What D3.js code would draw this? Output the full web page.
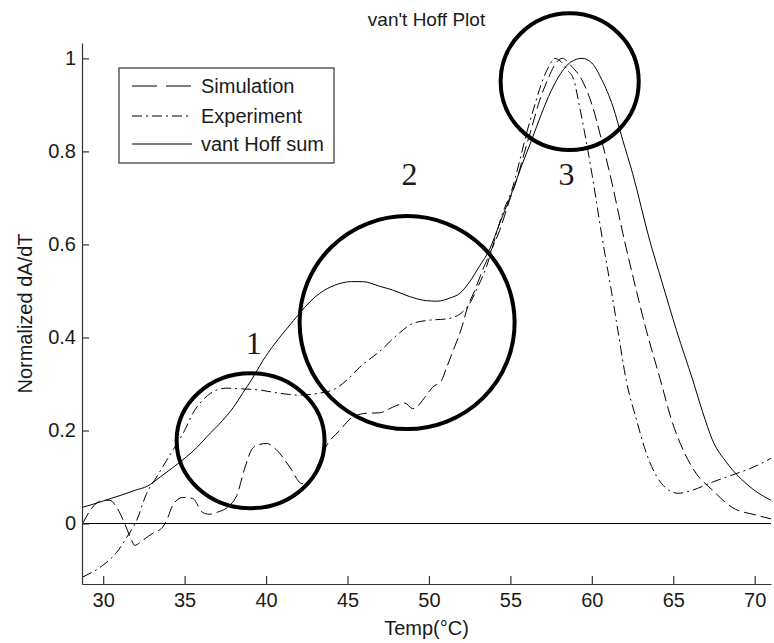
<!DOCTYPE html>
<html>
<head>
<meta charset="utf-8">
<script src="https://cdn.jsdelivr.net/npm/d3@7"></script>
<style>
  body { margin: 0; background: #fff; }
  svg { display: block; }
</style>
</head>
<body>
<div id="chart"></div>
<script>
// Simulation (long dashes)
const simTemp = [28.74, 29.2, 29.6, 30.0, 30.4, 30.83, 31.32, 31.75, 31.93, 32.42, 33.04, 33.65, 33.9, 34.27,
  34.88, 35.49, 36.1, 36.5, 36.97, 37.77, 38.2, 38.69, 39.18, 39.6, 40.04, 40.65, 41.46, 42.19, 42.6, 43.1,
  43.72, 44.52, 45.32, 46.17, 46.97, 47.77, 48.2, 48.51, 49.0, 49.3, 49.61, 50.23, 50.78, 51.09, 51.58, 52.0,
  52.37, 52.8, 53.3, 53.73, 54.34, 54.95, 55.38, 55.8, 56.3, 56.8, 57.3, 57.8, 58.2, 58.7, 59.4, 60.05, 60.6,
  61.1, 62.0, 62.6, 63.35, 64.2, 64.9, 65.7, 66.4, 67.4, 68.6, 70.1, 71.0];
const simValue = [0.0, 0.028, 0.044, 0.05, 0.05, 0.035, 0.0, -0.036, -0.047, -0.036, -0.021, -0.008, 0.007, 0.039,
  0.056, 0.054, 0.024, 0.02, 0.024, 0.039, 0.06, 0.119, 0.162, 0.17, 0.172, 0.158, 0.121, 0.086, 0.085, 0.12,
  0.168, 0.2, 0.229, 0.237, 0.238, 0.25, 0.256, 0.259, 0.247, 0.252, 0.265, 0.293, 0.308, 0.336, 0.38, 0.42,
  0.465, 0.5, 0.545, 0.58, 0.63, 0.695, 0.738, 0.79, 0.85, 0.91, 0.955, 0.99, 1.0, 0.985, 0.953, 0.896, 0.824,
  0.753, 0.609, 0.52, 0.415, 0.31, 0.222, 0.151, 0.108, 0.072, 0.035, 0.018, 0.01];

// Experiment (dash-dot)
const expTemp = [28.74, 29.97, 30.83, 31.44, 32.06, 32.67, 33.28, 33.9, 34.39, 35.0, 35.49, 36.1, 36.6, 36.97,
  37.6, 38.2, 39.61, 40.84, 42.06, 43.2, 44.09, 44.95, 45.75, 46.97, 48.2, 49.0, 50.0, 51.09, 51.89, 52.5,
  52.98, 53.54, 54.05, 54.52, 55.08, 55.5, 56.0, 56.5, 57.0, 57.4, 57.7, 58.1, 58.5, 58.9, 59.25, 60.0, 60.66,
  61.2, 61.6, 62.1, 62.75, 63.35, 64.0, 64.6, 65.3, 66.2, 67.4, 68.6, 69.9, 71.0];
const expValue = [-0.115, -0.09, -0.062, -0.03, 0.007, 0.065, 0.1, 0.136, 0.164, 0.2, 0.236, 0.265, 0.28, 0.287,
  0.291, 0.29, 0.287, 0.28, 0.276, 0.28, 0.287, 0.308, 0.336, 0.37, 0.41, 0.43, 0.437, 0.44, 0.45, 0.473,
  0.507, 0.553, 0.612, 0.667, 0.716, 0.77, 0.84, 0.9, 0.955, 0.985, 1.0, 0.993, 0.975, 0.953, 0.896, 0.753, 0.609,
  0.5, 0.415, 0.31, 0.222, 0.151, 0.1, 0.075, 0.065, 0.072, 0.089, 0.104, 0.121, 0.14];

// vant Hoff sum (solid)
const hoffTemp = [28.74, 29.8, 30.4, 31.2, 32.0, 32.7, 33.5, 34.27, 35.1, 35.8, 36.35, 37.34, 38.0, 38.56, 39.18,
  39.8, 40.5, 41.3, 42.06, 42.7, 43.3, 44.2, 45.25, 45.93, 46.97, 47.77, 48.8, 49.86, 50.5, 51.3, 51.9, 52.5,
  53.1, 53.73, 54.34, 55.14, 55.7, 56.3, 56.9, 57.5, 58.1, 58.7, 59.4, 60.0, 60.6, 61.3, 61.9, 62.5, 63.55,
  64.3, 65.2, 66.2, 66.8, 67.4, 68.3, 69.5, 70.2, 71.0];
const hoffValue = [0.035, 0.046, 0.053, 0.062, 0.072, 0.08, 0.1, 0.12, 0.143, 0.165, 0.186, 0.222, 0.25, 0.28, 0.313,
  0.35, 0.385, 0.42, 0.452, 0.477, 0.495, 0.512, 0.52, 0.52, 0.51, 0.502, 0.488, 0.479, 0.478, 0.485, 0.495, 0.52,
  0.553, 0.59, 0.645, 0.716, 0.77, 0.824, 0.88, 0.93, 0.968, 0.992, 1.0, 0.99, 0.955, 0.896, 0.824, 0.753, 0.609,
  0.52, 0.415, 0.308, 0.24, 0.18, 0.13, 0.085, 0.066, 0.05];

const xTicks = [30, 35, 40, 45, 50, 55, 60, 65, 70];
const yTicks = [0, 0.2, 0.4, 0.6, 0.8, 1];
const legendLabels = ['Simulation', 'Experiment', 'vant Hoff sum'];

// annotation circles, centre and radii in data units
const markLabels = ['1', '2', '3'];
const markTemp = [39.05, 48.66, 58.64];
const markValue = [0.178, 0.432, 0.95];
const markRadT = [4.54, 6.6, 4.24];
const markRadV = [0.145, 0.229, 0.147];
const markLabelTemp = [39.24, 48.81, 58.45];
const markLabelValue = [0.364, 0.7275, 0.7275];

const width = 774;
const height = 643;
const sans = '"Liberation Sans", Arial, sans-serif';

const svg = d3.select('#chart')
  .append('svg')
  .attr('width', width)
  .attr('height', height)
  .style('font-family', sans);

const x = d3.scaleLinear().domain([28.7, 71]).range([82, 771]);
const y = d3.scaleLinear().domain([-0.13, 1.033]).range([584, 43]);

// zero line
svg.append('line')
  .attr('x1', x(28.7))
  .attr('x2', x(71))
  .attr('y1', y(0))
  .attr('y2', y(0))
  .attr('stroke', '#000')
  .attr('stroke-width', 1);

const series = [
  { temp: simTemp, value: simValue, dash: '12,5' },
  { temp: expTemp, value: expValue, dash: '10,4,2,4' },
  { temp: hoffTemp, value: hoffValue, dash: null }
];

const line = d3.line()
  .x(d => x(d[0]))
  .y(d => y(d[1]))
  .curve(d3.curveMonotoneX);

svg.selectAll('path.series')
  .data(series)
  .enter()
  .append('path')
  .attr('class', 'series')
  .attr('d', s => line(s.temp.map((t, i) => [t, s.value[i]])))
  .attr('fill', 'none')
  .attr('stroke', '#000')
  .attr('stroke-width', 1)
  .attr('stroke-dasharray', s => s.dash);

// axes, ticks pointing inward
const xAxis = svg.append('g')
  .attr('transform', `translate(0,${y.range()[0]})`)
  .call(d3.axisBottom(x).tickValues(xTicks).tickSizeInner(-8).tickSizeOuter(0).tickPadding(9));

const yAxis = svg.append('g')
  .attr('transform', `translate(${x.range()[0]},0)`)
  .call(d3.axisLeft(y).tickValues(yTicks).tickSizeInner(-7).tickSizeOuter(0).tickPadding(6)
    .tickFormat(d3.format('~g')));

[xAxis, yAxis].forEach(g => {
  g.selectAll('path, line').attr('stroke', '#333').attr('stroke-width', 1.2);
  g.selectAll('text')
    .attr('font-family', sans)
    .attr('font-size', 20)
    .attr('fill', '#1a1a1a');
});

// title and axis labels
const cx = (x.range()[0] + x.range()[1]) / 2;
const cy = (y.range()[0] + y.range()[1]) / 2;

svg.append('text')
  .attr('x', cx)
  .attr('y', 26)
  .attr('text-anchor', 'middle')
  .attr('font-size', 19)
  .attr('fill', '#1a1a1a')
  .text("van't Hoff Plot");

svg.append('text')
  .attr('x', cx)
  .attr('y', 635)
  .attr('text-anchor', 'middle')
  .attr('font-size', 20)
  .attr('fill', '#1a1a1a')
  .text('Temp(°C)');

svg.append('text')
  .attr('transform', `translate(32,${cy}) rotate(-90)`)
  .attr('text-anchor', 'middle')
  .attr('font-size', 20)
  .attr('fill', '#1a1a1a')
  .text('Normalized dA/dT');

// legend
const legend = svg.append('g').attr('transform', 'translate(119,68)');
legend.append('rect')
  .attr('width', 215)
  .attr('height', 95)
  .attr('fill', '#fff')
  .attr('stroke', '#333')
  .attr('stroke-width', 1.2);

const legendDash = ['25,9', '10,4,2,4', null];
const rows = legend.selectAll('g.row')
  .data(legendLabels)
  .enter()
  .append('g')
  .attr('class', 'row')
  .attr('transform', (d, i) => `translate(0,${[18, 48, 76][i]})`);

rows.append('line')
  .attr('x1', 13)
  .attr('x2', 73)
  .attr('stroke', '#000')
  .attr('stroke-width', 1)
  .attr('stroke-dasharray', (d, i) => legendDash[i]);

rows.append('text')
  .attr('x', 82)
  .attr('y', 7)
  .attr('font-size', 20)
  .attr('fill', '#1a1a1a')
  .text(d => d);

// annotation circles and their numbers
svg.selectAll('ellipse.mark')
  .data(markLabels)
  .enter()
  .append('ellipse')
  .attr('class', 'mark')
  .attr('cx', (d, i) => x(markTemp[i]))
  .attr('cy', (d, i) => y(markValue[i]))
  .attr('rx', (d, i) => x(markTemp[i] + markRadT[i]) - x(markTemp[i]))
  .attr('ry', (d, i) => y(markValue[i] - markRadV[i]) - y(markValue[i]))
  .attr('fill', 'none')
  .attr('stroke', '#000')
  .attr('stroke-width', 4);

svg.selectAll('text.mark')
  .data(markLabels)
  .enter()
  .append('text')
  .attr('class', 'mark')
  .attr('x', (d, i) => x(markLabelTemp[i]))
  .attr('y', (d, i) => y(markLabelValue[i]))
  .attr('text-anchor', 'middle')
  .style('font-family', '"Liberation Serif", "Times New Roman", serif')
  .attr('font-size', 32)
  .attr('fill', '#1a1a1a')
  .text(d => d);
</script>
</body>
</html>
